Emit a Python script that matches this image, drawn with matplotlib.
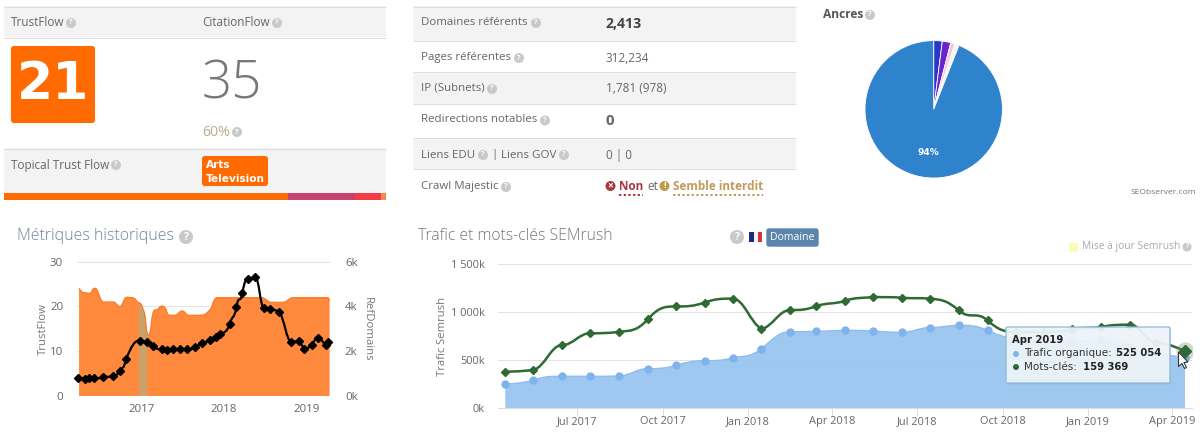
import matplotlib
matplotlib.use("Agg")
import matplotlib.pyplot as plt
import matplotlib.dates as mdates
import numpy as np
from matplotlib.patches import Rectangle, FancyBboxPatch, PathPatch, Circle, Polygon
from matplotlib.path import Path
from matplotlib.ticker import FuncFormatter

plt.rcParams['font.family'] = ['Open Sans', 'DejaVu Sans']

# ---------- data ----------
trust_years = [2016.227, 2016.308, 2016.356, 2016.413, 2016.530, 2016.644, 2016.733, 2016.806, 2016.976,
               2017.065, 2017.138, 2017.239, 2017.308, 2017.381, 2017.466, 2017.551, 2017.644, 2017.733,
               2017.826, 2017.899, 2017.955, 2018.069, 2018.150, 2018.223, 2018.296, 2018.381, 2018.482,
               2018.563, 2018.668, 2018.818, 2018.907, 2018.972, 2019.069, 2019.142, 2019.235, 2019.267]
trust_flow = [3.95, 3.87, 3.95, 3.95, 4.17, 4.47, 5.6, 8.3, 12.3, 12.0, 11.2, 10.4, 10.3, 10.5, 10.4, 10.4, 10.9, 11.8,
              12.4, 13.1, 13.8, 16.1, 19.9, 23.1, 26.1, 26.6, 19.7, 19.4, 18.7, 12.1, 12.2, 10.6, 11.5, 13.0, 11.4, 12.0]
ref_years = [2016.235, 2016.288, 2016.368, 2016.421, 2016.470, 2016.530, 2016.652, 2016.733, 2016.814, 2016.874,
             2016.935, 2017.004, 2017.045, 2017.081, 2017.117, 2017.166, 2017.239, 2017.279, 2017.328, 2017.401,
             2017.490, 2017.571, 2017.684, 2017.846, 2017.919, 2018.453, 2018.575, 2018.717, 2018.838, 2019.263, 2019.283]
ref_domains = [4809, 4615, 4585, 4809, 4585, 4198, 4198, 3990, 4407, 4392, 4243, 3990, 3320, 2724, 3320, 3841, 4020,
               3945, 3603, 3603, 3796, 3603, 3603, 3945, 4392, 4392, 4183, 4183, 4392, 4392, 4243]
year_ticks = [2017, 2018, 2019]

months = ['2017-04-15', '2017-05-15', '2017-06-15', '2017-07-15', '2017-08-15', '2017-09-15', '2017-10-15',
          '2017-11-15', '2017-12-15', '2018-01-15', '2018-02-15', '2018-03-15', '2018-04-15', '2018-05-15',
          '2018-06-15', '2018-07-15', '2018-08-15', '2018-09-15', '2018-10-15', '2018-11-15', '2018-12-15',
          '2019-01-15', '2019-02-15', '2019-03-15', '2019-04-15']
traffic_k = [250, 292, 331, 331, 334, 411, 445, 494, 522, 619, 797, 800, 811, 804, 790, 839, 863, 811, 734, 700,
             700, 710, 640, 560, 525.054]
keywords_k = [101.6, 107, 176, 209, 213, 248, 284, 295, 306, 221, 274, 285, 300, 311, 308.5, 306, 273, 245, 213,
              212, 220, 227, 233, 183, 159.369]
month_ticks = ['2017-07-01', '2017-10-01', '2018-01-01', '2018-04-01', '2018-07-01', '2018-10-01', '2019-01-01', '2019-04-01']
month_labels = ['Jul 2017', 'Oct 2017', 'Jan 2018', 'Apr 2018', 'Jul 2018', 'Oct 2018', 'Jan 2019', 'Apr 2019']

anchor_shares = [2, 2, 1, 1, 94]
anchor_colors = ['#2a35c9', '#6a25cf', '#f6c6dc', '#f4f4f4', '#2f82cc']

table_labels = ['Domaines référents', 'Pages référentes', 'IP (Subnets)', 'Redirections notables']
table_values = ['2,413', '312,234', '1,781 (978)', '0']

# ---------- helpers ----------
W, H = 1200, 432
fig = plt.figure(figsize=(W / 100, H / 100), dpi=100, facecolor='white')
PX = 0.72
BASE = 11.7
LABEL = 11.45


def box(l, t, r, b):
    return fig.add_axes([l / W, 1 - b / H, (r - l) / W, (b - t) / H])


bg = fig.add_axes([0, 0, 1, 1], zorder=0)
bg.set_xlim(0, W); bg.set_ylim(H, 0); bg.axis('off')
top = fig.add_axes([0, 0, 1, 1], zorder=20)
top.set_xlim(0, W); top.set_ylim(H, 0); top.axis('off'); top.patch.set_alpha(0)


def T(x, y, s, px=BASE, color='#666666', ha='left', va='center', ax=bg, **kw):
    return ax.text(x, y, s, fontsize=px * PX, color=color, ha=ha, va=va, **kw)


def band(l, t, r, b, fc='#f3f3f3'):
    bg.add_patch(Rectangle((l, t), r - l, b - t, fc=fc, ec='none'))


def hline(l, r, y, c='#dedede', lw=1):
    bg.plot([l, r], [y, y], color=c, lw=lw * PX, solid_capstyle='butt')


def help_icon(x, y, r=5, ax=bg):
    ax.add_patch(Circle((x, y), r, fc='#c9c9c9', ec='none'))
    ax.text(x, y, '?', fontsize=r * 1.5 * PX, color='white', ha='center', va='center', fontweight='bold')


def spline(xs, ys, close_base=None):
    """Smooth path through the data (Highcharts-like spline)."""
    xs = np.asarray(xs, float); ys = np.asarray(ys, float)
    n = len(xs); left = []; right = []
    for i in range(n):
        x, y = xs[i], ys[i]
        if i == 0 or i == n - 1:
            left.append((x, y)); right.append((x, y)); continue
        lx = x - (x - xs[i - 1]) / 2.5; ly = y - (y - ys[i - 1]) / 2.5
        rx = x + (xs[i + 1] - x) / 2.5; ry = y + (ys[i + 1] - y) / 2.5
        c = (ly - ry) * (rx - x) / (rx - lx) + y - ry
        ly += c; ry += c
        if ly > max(ys[i - 1], y):
            ly = max(ys[i - 1], y); ry = 2 * y - ly
        elif ly < min(ys[i - 1], y):
            ly = min(ys[i - 1], y); ry = 2 * y - ly
        if ry > max(ys[i + 1], y):
            ry = max(ys[i + 1], y); ly = 2 * y - ry
        elif ry < min(ys[i + 1], y):
            ry = min(ys[i + 1], y); ly = 2 * y - ry
        left.append((lx, ly)); right.append((rx, ry))
    verts = [(xs[0], ys[0])]; codes = [Path.MOVETO]
    for i in range(1, n):
        verts += [right[i - 1], left[i], (xs[i], ys[i])]
        codes += [Path.CURVE4] * 3
    if close_base is not None:
        verts += [(xs[-1], close_base), (xs[0], close_base), (xs[0], ys[0])]
        codes += [Path.LINETO, Path.LINETO, Path.CLOSEPOLY]
    return Path(verts, codes)


# ---------- top-left panel ----------
band(4, 6, 386, 37); hline(4, 386, 6.5); hline(4, 386, 37.5)
T(11, 22.5, 'TrustFlow'); help_icon(71, 23)
T(202, 22.5, 'CitationFlow'); help_icon(277, 23)
bg.add_patch(FancyBboxPatch((12, 47), 82, 75, boxstyle='round,pad=0,rounding_size=2', fc='#ff6b00', ec='#ff6b00', lw=1.5))
T(53, 85, '21', 52, 'white', ha='center', family='DejaVu Sans', fontweight='bold')
T(202, 85, '35', 53, '#777777', fontweight='light')
T(202, 132, '60%', 14, '#bba98f'); help_icon(237, 132)
band(4, 148, 386, 193); hline(4, 386, 148.5)
T(11, 165, 'Topical Trust Flow'); help_icon(116, 165)
bg.add_patch(FancyBboxPatch((203, 157), 64, 28, boxstyle='round,pad=0,rounding_size=2', fc='#ff6b00', ec='#ff6b00', lw=1.5))
T(206, 164.5, 'Arts', 10.5, 'white', family='DejaVu Sans', fontweight='bold')
T(206, 178.5, 'Television', 10.5, 'white', family='DejaVu Sans', fontweight='bold')
band(4, 193, 288, 200, '#ff6b00'); band(288, 193, 355, 200, '#c8426f')
band(355, 193, 381, 200, '#f53c46'); band(381, 193, 386, 200, '#ee8c50')

# ---------- middle table ----------
for t, b in [(6, 41), (72, 104), (138, 169)]:
    band(413, t, 796, b)
for y in [6.5, 41, 72, 104, 138, 169]:
    hline(413, 796, y)
ys = [22.5, 57.5, 88.5, 120]
icons = [536, 519, 492, 545]
for lab, val, y, ix in zip(table_labels, table_values, ys, icons):
    T(421, y, lab, LABEL)
    help_icon(ix, y + .5)
T(606, 24, table_values[0], 14, '#444444', fontweight='bold')
T(606, 58, table_values[1])
T(606, 89, table_values[2])
T(606, 121, table_values[3], 15, '#666666', fontweight='bold')
T(421, 155, 'Liens EDU', LABEL); help_icon(483, 155)
T(491, 155, '|', LABEL); T(501, 155, 'Liens GOV', LABEL); help_icon(564, 155)
T(606, 155, '0 | 0')
T(421, 186.5, 'Crawl Majestic', LABEL); help_icon(506, 187)
bg.add_patch(Circle((610.5, 186), 5, fc='#a83a3e', ec='none'))
T(610.5, 186, '×', 10, 'white', ha='center', fontweight='bold')
T(619, 186, 'Non', 11.7, '#a83a3e', fontweight='bold')
T(647, 186, 'et')
bg.add_patch(Circle((664.5, 186), 5, fc='#c29a4c', ec='none'))
T(664.5, 186, '!', 9, 'white', ha='center', fontweight='bold')
T(673, 186, 'Semble interdit', 11.7, '#c29a5c', fontweight='bold')
bg.plot([619, 643], [195, 195], color='#a83a3e', lw=1.4, ls=(0, (1.2, 1.2)))
bg.plot([673, 763], [195, 195], color='#c29a5c', lw=1.4, ls=(0, (1.2, 1.2)))

# ---------- pie ----------
T(823, 15, 'Ancres', 12, '#555555', fontweight='bold'); help_icon(870, 15)
pie_ax = box(865, 40.6, 1002.4, 178)
pie_ax.pie(anchor_shares, colors=anchor_colors, startangle=90, counterclock=False, radius=1,
           wedgeprops=dict(edgecolor='white', linewidth=0.6))
pie_ax.set_xlim(-1, 1); pie_ax.set_ylim(-1, 1)
T(928, 152.5, '94%', 9, 'white', fontweight='bold', ax=top, ha='center', family='DejaVu Sans')
T(1196, 193, 'SEObserver.com', 8.5, '#777777', ha='right')

# ---------- historic metrics chart ----------
T(17, 236, 'Métriques historiques', 16, '#70859b', fontweight='light'); help_icon(186, 237, 7)
axr = box(77, 261.7, 331, 396)
axl = axr.twinx()
axr.set_zorder(2); axl.set_zorder(3); axl.patch.set_alpha(0)
axr.set_xlim(2016.21, 2019.30); axr.set_ylim(0, 6000); axl.set_ylim(0, 30)
axl.yaxis.tick_left(); axl.yaxis.set_label_position('left')
axr.yaxis.tick_right(); axr.yaxis.set_label_position('right')
axr.patch.set_alpha(0)
axr.set_yticks([0, 2000, 4000, 6000]); axl.set_yticks([0, 10, 20, 30])
axr.yaxis.set_major_formatter(FuncFormatter(lambda v, _: f'{v / 1000:.0f}k'))
axr.grid(axis='y', color='#e4e4e4', lw=1 * PX); axr.set_axisbelow(True)
area_path = spline(ref_years, ref_domains, close_base=0)
area = PathPatch(area_path, fc='#ff8a3d', ec='none', zorder=2)
axr.add_patch(area)
axr.add_patch(PathPatch(spline(ref_years, ref_domains), fc='none', ec='#f97e2a', lw=1, zorder=2.2))
tan = Rectangle((2016.968, 0), 0.097, 6000, fc='#c9a26b', ec='none', zorder=2.1)
axr.add_patch(tan); tan.set_clip_path(area)
axl.add_patch(PathPatch(spline(trust_years, trust_flow), fc='none', ec='black', lw=1.6, zorder=3))
axl.plot(trust_years, trust_flow, ls='none', marker='D', ms=4.2, color='black', zorder=4, clip_on=False)
axr.set_xticks(year_ticks); axr.set_xticklabels([str(y) for y in year_ticks])
for a in (axr, axl):
    for s in a.spines.values():
        s.set_visible(False)
    a.tick_params(length=0, labelsize=11.5 * PX, labelcolor='#666666')
axr.tick_params(axis='x', pad=6)
axl.tick_params(axis='y', pad=10); axr.tick_params(axis='y', pad=10)
axl.set_ylabel('TrustFlow', fontsize=11.4 * PX, color='#777777', labelpad=1)
axr.set_ylabel('RefDomains', fontsize=11.4 * PX, color='#777777', rotation=270, labelpad=11)

# ---------- SEMrush chart ----------
T(418, 236, 'Trafic et mots-clés SEMrush', 15.8, '#777777', fontweight='light'); help_icon(737, 237, 7)
band(749, 232, 753.5, 242, '#1a2a80'); band(753.5, 232, 758, 242, '#f2f2f2'); band(758, 232, 762, 242, '#d4353c')
bg.add_patch(FancyBboxPatch((767, 229), 51, 17, boxstyle='round,pad=0,rounding_size=2', fc='#5b85ad', ec='#5b85ad', lw=1))
T(792.5, 238, 'Domaine', 10.5, 'white', ha='center')
band(1069, 243, 1078, 252, '#fbfbb8')
T(1082, 247, 'Mise à jour Semrush', 10.2, '#aaaaaa'); help_icon(1187, 247, 4.5)

dates = mdates.date2num(np.array(months, dtype='datetime64[D]'))
tick_dates = mdates.date2num(np.array(month_ticks, dtype='datetime64[D]'))
px_per_day = (1172 - 577) / (tick_dates[-1] - tick_dates[0])
ax2 = box(498, 264.3, 1192, 408)
ax2.patch.set_alpha(0)
ax2.set_xlim(tick_dates[0] - 79 / px_per_day, tick_dates[-1] + 20 / px_per_day)
ax2.set_ylim(0, 1500)
ax2.set_yticks([0, 500, 1000, 1500])
ax2.set_yticklabels(['0k', '500k', '1 000k', '1 500k'])
ax2.set_xticks(tick_dates); ax2.set_xticklabels(month_labels)
ax2.grid(axis='y', color='#e2e2e2', lw=1 * PX); ax2.set_axisbelow(True)
for k, s in ax2.spines.items():
    s.set_visible(k == 'bottom')
ax2.spines['bottom'].set_color('#dddddd')
ax2.tick_params(axis='y', length=0, pad=9.4, labelsize=11 * PX, labelcolor='#666666')
ax2.tick_params(axis='x', length=5.5, width=.7, color='#dddddd', pad=0.5, labelsize=11 * PX, labelcolor='#666666')
ax2.set_ylabel('Trafic Semrush', fontsize=11.3 * PX, color='#777777', labelpad=2.5)
ax2.add_patch(PathPatch(spline(dates, traffic_k, close_base=0), fc='#98c4ef', ec='none', alpha=.93, zorder=2))
ax2.add_patch(PathPatch(spline(dates, traffic_k), fc='none', ec='#8fbdee', lw=1, zorder=2.1))
ax2.plot(dates, traffic_k, ls='none', marker='o', ms=6, color='#7fb3ec', mec='none', zorder=3)
ax3 = ax2.twinx()
ax3.set_ylim(0, 402); ax3.patch.set_alpha(0); ax3.axis('off')
ax3.add_patch(PathPatch(spline(dates, keywords_k), fc='none', ec='#2f6a35', lw=1.8, zorder=3))
ax3.plot(dates, keywords_k, ls='none', marker='D', ms=4, color='#2f6a35', zorder=4)
ax3.plot(dates[-1:], keywords_k[-1:], ls='none', marker='o', ms=13, color='#7a8a7a', alpha=.35, mec='none', zorder=4)
ax3.plot(dates[-1:], keywords_k[-1:], ls='none', marker='D', ms=6, color='#2f6a35', clip_on=False, zorder=5)

# ---------- tooltip + cursor ----------
top.add_patch(FancyBboxPatch((1006, 327), 164, 56, boxstyle='round,pad=0,rounding_size=1.5', fc='#a0a0a0', ec='none', alpha=.35,
                             transform=matplotlib.transforms.Affine2D().translate(1, 1.5) + top.transData))
top.add_patch(FancyBboxPatch((1006, 327), 164, 56, boxstyle='round,pad=0,rounding_size=1.5', fc='#eff6fb', ec='#8db8dc', lw=1, alpha=.92))
tip_font = dict(family='DejaVu Sans', ax=top)
T(1012, 340, 'Apr 2019', 10, '#222222', fontweight='bold', **tip_font)
top.add_patch(Circle((1016, 354), 3, fc='#7fb3ec', ec='none'))
top.add_patch(Circle((1016, 367), 3, fc='#2f6a35', ec='none'))
T(1024, 353.5, 'Trafic organique: ', 10.4, '#333333', **tip_font)
T(1116.5, 353.5, '525 054', 10, '#222222', fontweight='bold', **tip_font)
T(1024, 367, 'Mots-clés: ', 10.4, '#333333', **tip_font)
T(1083, 367, '159 369', 10, '#222222', fontweight='bold', **tip_font)
top.add_patch(Polygon([(1178.5, 352), (1178.5, 366.5), (1182, 363.5), (1184.5, 368.5), (1186.5, 367.5), (1184, 362.5), (1188, 362)],
                      closed=True, fc='white', ec='#333333', lw=.8))

fig.savefig('out.png', dpi=100, facecolor='white')
